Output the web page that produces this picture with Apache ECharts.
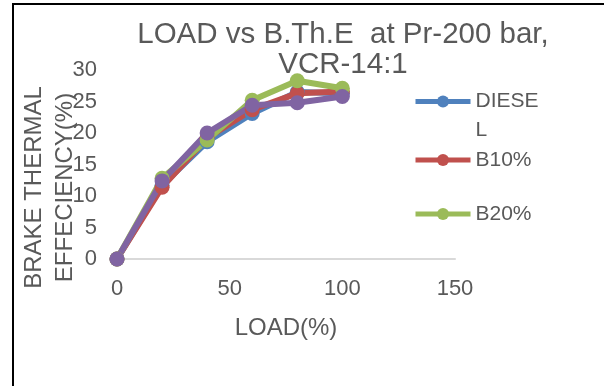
<!DOCTYPE html>
<html style="height: 100%">
<head>
    <meta charset="utf-8">
</head>
<body style="height: 100%; margin: 0; background: #fff">
<div id="container" style="width: 604px; height: 386px"></div>
<script src="https://cdn.jsdelivr.net/npm/echarts@6/dist/echarts.min.js"></script>
<script type="text/javascript">
    // load (%) and brake thermal efficiency (%)
    var load = [0, 20, 40, 60, 80, 100];
    var diesel = [0, 11.7, 18.6, 23.1, 26.5, 26.3];
    var b10 = [0, 11.4, 19.2, 23.7, 26.3, 26.6];
    var b20 = [0, 12.8, 18.9, 25.2, 28.3, 27.1];
    var b30 = [0, 12.4, 20.0, 24.4, 24.8, 25.8];
    var xTicks = [0, 50, 100, 150];
    var yTicks = [0, 5, 10, 15, 20, 25, 30];

    var colors = ['#4f81bd', '#c0504d', '#9bbb59', '#8064a2'];
    var textColor = '#595959';
    var font = 'Liberation Sans, Arial, sans-serif';

    function pairs(ys) {
        return load.map(function (x, i) { return [x, ys[i]]; });
    }

    function lineSeries(name, ys, color) {
        return {
            name: name,
            type: 'line',
            data: pairs(ys),
            symbol: 'circle',
            symbolSize: 15,
            lineStyle: { width: 6, color: color },
            itemStyle: { color: color },
            emphasis: { disabled: true }
        };
    }

    var legendBase = {
        orient: 'vertical',
        left: 413,
        padding: 0,
        itemWidth: 55,
        itemHeight: 15,
        itemGap: 5,
        lineStyle: { width: 5 },
        textStyle: { fontSize: 21, color: textColor, fontFamily: font, lineHeight: 29 }
    };

    var myChart = echarts.init(document.getElementById('container'), null, { renderer: 'canvas' });

    var option = {
        animation: false,
        color: colors,
        title: {
            text: 'LOAD vs B.Th.E  at Pr-200 bar,\nVCR-14:1',
            left: 343,
            top: 20,
            textAlign: 'center',
            padding: 0,
            textStyle: { fontSize: 29.5, fontWeight: 'normal', color: textColor, fontFamily: font, lineHeight: 30 }
        },
        legend: [
            Object.assign({}, legendBase, {
                top: 58,
                data: ['DIESEL'],
                // blank first line keeps "DIESE" level with the icon, "L" wraps below
                formatter: function () { return '\nDIESE\nL'; }
            }),
            Object.assign({}, legendBase, { top: 145.5, data: ['B10%'] }),
            Object.assign({}, legendBase, { top: 199.5, data: ['B20%'] })
        ],
        grid: { left: 117, right: 149, top: 70, bottom: 127, outerBoundsMode: 'none', containLabel: false },
        xAxis: {
            type: 'value',
            min: xTicks[0],
            max: xTicks[xTicks.length - 1],
            interval: xTicks[1] - xTicks[0],
            name: 'LOAD(%)',
            nameLocation: 'middle',
            nameGap: 57,
            nameMoveOverlap: false,
            nameTextStyle: { fontSize: 24, color: textColor, fontFamily: font },
            axisLine: { show: true, lineStyle: { color: '#d9d9d9', width: 2 } },
            axisTick: { show: false },
            splitLine: { show: false },
            axisLabel: { fontSize: 22, color: textColor, fontFamily: font, margin: 19 }
        },
        yAxis: {
            type: 'value',
            min: yTicks[0],
            max: yTicks[yTicks.length - 1],
            interval: yTicks[1] - yTicks[0],
            name: 'BRAKE THERMAL\nEFFECIENCY(%)',
            nameLocation: 'middle',
            nameGap: 36,
            nameMoveOverlap: false,
            nameTextStyle: {
                fontSize: 24, color: textColor, fontFamily: font, lineHeight: 31,
                padding: [0, 46, 0, 0]
            },
            axisLine: { show: false },
            axisTick: { show: false },
            splitLine: { show: false },
            axisLabel: { fontSize: 22, color: textColor, fontFamily: font, margin: 20 }
        },
        graphic: [{
            type: 'rect',
            shape: { x: 13, y: 4, width: 700, height: 500 },
            style: { fill: 'none', stroke: '#000', lineWidth: 2 },
            silent: true,
            z: 100
        }],
        series: [
            lineSeries('DIESEL', diesel, colors[0]),
            lineSeries('B10%', b10, colors[1]),
            lineSeries('B20%', b20, colors[2]),
            lineSeries('B30%', b30, colors[3])
        ]
    };

    myChart.setOption(option);
    window.addEventListener('resize', myChart.resize);
</script>
</body>
</html>
